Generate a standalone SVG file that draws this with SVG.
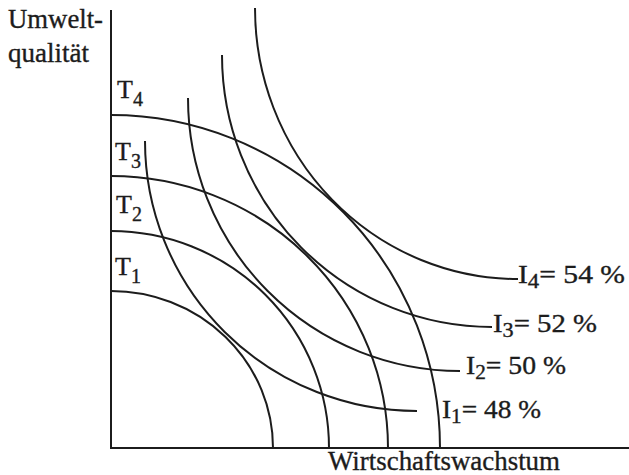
<svg xmlns="http://www.w3.org/2000/svg" width="629" height="475" viewBox="0 0 629 475">
<style>
.ln{fill:none;stroke:#1c1c1c;stroke-width:2;stroke-linecap:butt}
.tx{font-family:"Liberation Serif","Times New Roman",serif;fill:#1c1c1c;stroke:#1c1c1c;stroke-width:0.35;font-size:26px}
.sb{font-size:20px}
</style>
<rect width="629" height="475" fill="#fff"/>
<g id="axes">
<path class="ln" d="M111,10 V448 H629"/>
<text class="tx" x="8" y="28" style="font-size:27px" textLength="95" lengthAdjust="spacingAndGlyphs">Umwelt-</text>
<text class="tx" x="8" y="62" style="font-size:27px" textLength="81" lengthAdjust="spacingAndGlyphs">qualität</text>
<text class="tx" x="328" y="470" style="font-size:27px" textLength="232" lengthAdjust="spacingAndGlyphs">Wirtschaftswachstum</text>
</g>
<g id="T1"><path class="ln" d="M111,291 A162,157 0 0 1 273,448"/>
<text class="tx" x="115" y="275">T<tspan class="sb" dy="8">1</tspan></text></g>
<g id="T2"><path class="ln" d="M111,231 A218,217 0 0 1 329,448"/>
<text class="tx" x="116" y="213">T<tspan class="sb" dy="8">2</tspan></text></g>
<g id="T3"><path class="ln" d="M111,176 A277,272 0 0 1 388,448"/>
<text class="tx" x="115" y="160">T<tspan class="sb" dy="8">3</tspan></text></g>
<g id="T4"><path class="ln" d="M111,115 A329,333 0 0 1 440,448"/>
<text class="tx" x="117" y="98">T<tspan class="sb" dy="8">4</tspan></text></g>
<g id="I1"><path class="ln" d="M145,141 A272,270 0 0 0 417,411"/>
<text class="tx" x="442" y="418" textLength="99" lengthAdjust="spacingAndGlyphs">I<tspan class="sb" dy="5">1</tspan><tspan dy="-5">= 48 %</tspan></text></g>
<g id="I2"><path class="ln" d="M188,98 A272,273 0 0 0 460,371"/>
<text class="tx" x="466" y="374" textLength="100" lengthAdjust="spacingAndGlyphs">I<tspan class="sb" dy="5">2</tspan><tspan dy="-5">= 50 %</tspan></text></g>
<g id="I3"><path class="ln" d="M222,55 A270,272 0 0 0 492,327"/>
<text class="tx" x="493" y="332" textLength="104" lengthAdjust="spacingAndGlyphs">I<tspan class="sb" dy="5">3</tspan><tspan dy="-5">= 52 %</tspan></text></g>
<g id="I4"><path class="ln" d="M255,8 A263,271 0 0 0 518,279"/>
<text class="tx" x="518" y="283" textLength="107" lengthAdjust="spacingAndGlyphs">I<tspan class="sb" dy="5">4</tspan><tspan dy="-5">= 54 %</tspan></text></g>
</svg>
